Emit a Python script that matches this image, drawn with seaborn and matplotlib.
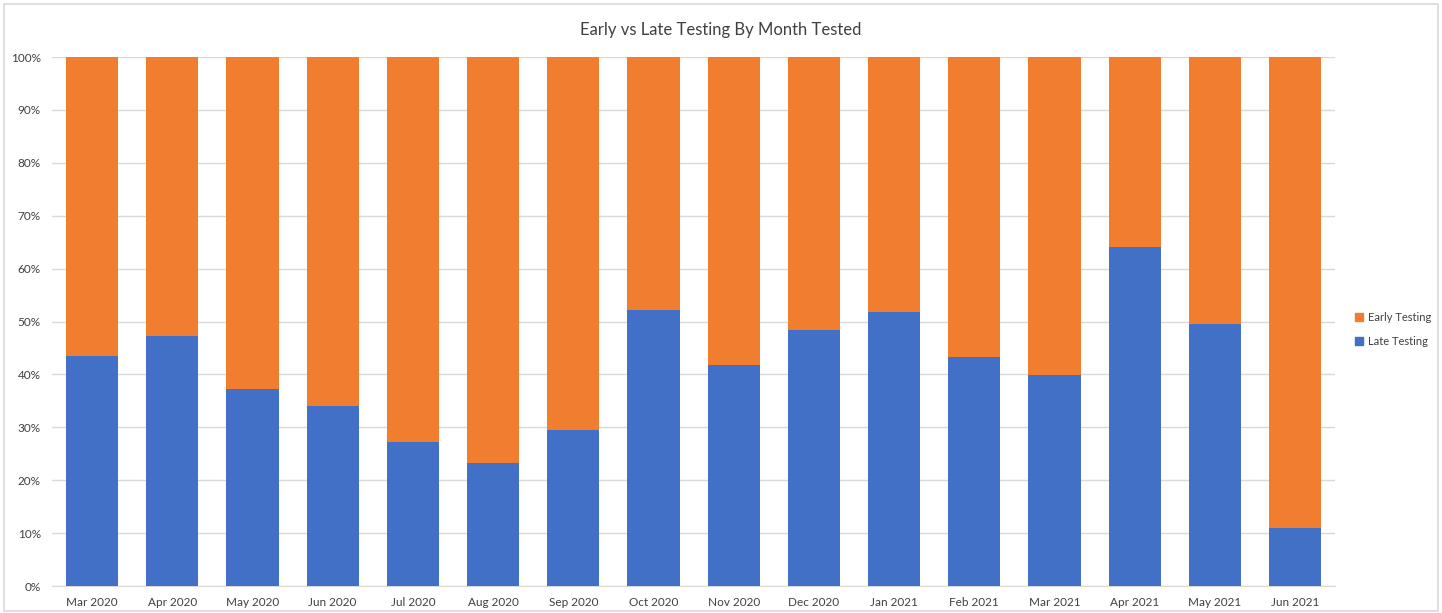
import pandas as pd
import matplotlib.pyplot as plt
import seaborn as sns
from matplotlib.patches import Rectangle, Patch
from matplotlib.ticker import PercentFormatter

# Data
months = ["Mar 2020", "Apr 2020", "May 2020", "Jun 2020", "Jul 2020", "Aug 2020",
          "Sep 2020", "Oct 2020", "Nov 2020", "Dec 2020", "Jan 2021", "Feb 2021",
          "Mar 2021", "Apr 2021", "May 2021", "Jun 2021"]
late_testing = [43.5, 47.3, 37.2, 34.0, 27.2, 23.3, 29.5, 52.2,
                41.8, 48.4, 51.8, 43.3, 39.9, 64.1, 49.5, 11.0]
early_testing = [100 - v for v in late_testing]

df = pd.DataFrame({"Month": months, "Late": late_testing, "Early": early_testing})
df["Total"] = df["Late"] + df["Early"]

orange = "#F07E2E"
blue = "#4170C6"

sns.set_style("white")
plt.rcParams['font.family'] = ['Lato', 'DejaVu Sans']

fig = plt.figure(figsize=(14.42, 6.13), dpi=100)
ax = fig.add_axes([0.036, 0.044, 0.890, 0.863])

# stacked: full bar in orange, late part in blue on top
sns.barplot(data=df, x="Month", y="Total", color=orange, width=0.65,
            saturation=1, linewidth=0, ax=ax, zorder=2)
sns.barplot(data=df, x="Month", y="Late", color=blue, width=0.65,
            saturation=1, linewidth=0, ax=ax, zorder=3)

ax.set_ylim(0, 100)
ax.set_xlim(-0.5, len(months) - 0.5)
ax.set_yticks(range(0, 101, 10))
ax.yaxis.set_major_formatter(PercentFormatter(decimals=0))
ax.grid(axis="y", color="#D9D9D9", linewidth=1, zorder=0)
ax.set_axisbelow(True)
for s in ["top", "right", "left"]:
    ax.spines[s].set_visible(False)
ax.spines["bottom"].set_color("#D9D9D9")
ax.tick_params(axis="both", length=0, labelsize=8.5, labelcolor="#404040", pad=8)
ax.set_xlabel("")
ax.set_ylabel("")

fig.text(0.5, 0.951, "Early vs Late Testing By Month Tested", ha="center", va="center",
         fontsize=12, color="#404040")

handles = [Patch(color=orange, label="Early Testing"), Patch(color=blue, label="Late Testing")]
fig.legend(handles=handles, loc="center left", bbox_to_anchor=(0.933, 0.463),
           frameon=False, fontsize=8, handlelength=0.7, handleheight=0.7,
           handletextpad=0.4, labelspacing=1.2, labelcolor="#404040")

fig.patches.append(Rectangle((0.003, 0.003), 0.994, 0.99, transform=fig.transFigure,
                             fill=False, edgecolor="#D9D9D9", linewidth=1.2))

plt.savefig("out.png")
plt.close()
